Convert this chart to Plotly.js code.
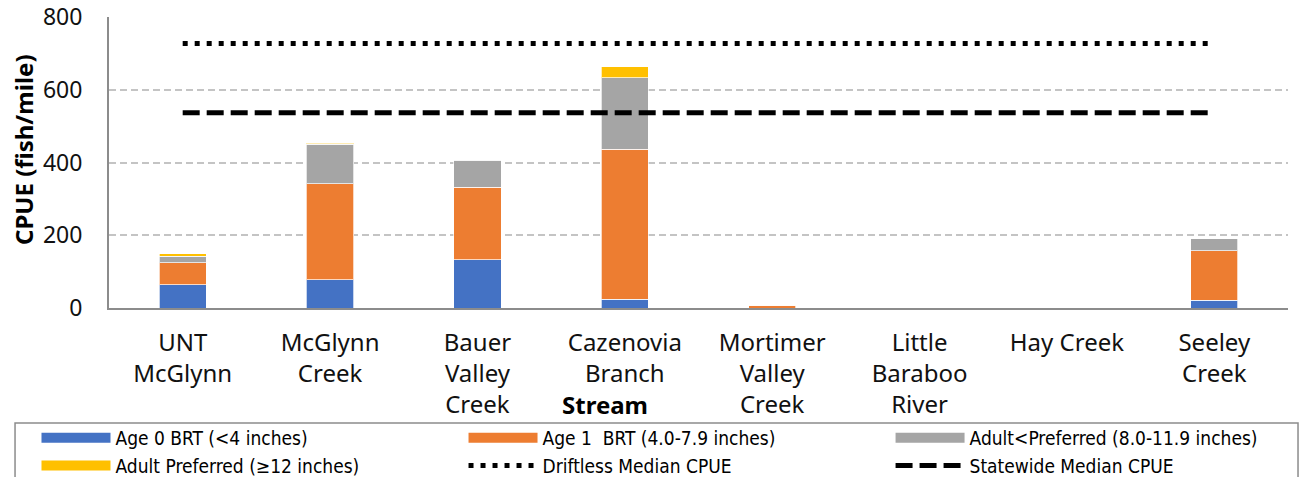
<!DOCTYPE html>
<html><head><meta charset="utf-8">
<script src="https://cdn.plot.ly/plotly-3.0.1.min.js"></script>
<style>html,body{margin:0;padding:0;background:#fff}#chart{width:1302px;height:477px}</style>
</head><body><div id="chart"></div>
<script>
const streams = ["UNT<br>McGlynn","McGlynn<br>Creek","Bauer<br>Valley<br>Creek","Cazenovia<br>Branch","Mortimer<br>Valley<br>Creek","Little<br>Baraboo<br>River","Hay Creek","Seeley<br>Creek"];
const age0 = [64, 78, 132, 24, 0, 0, 0, 21];
const age1 = [61, 263, 200, 412, 7, 0, 0, 137];
const adultLess = [17, 109, 74, 197, 0, 0, 0, 33];
const adultPref = [7, 3, 0, 30, 0, 0, 0, 0];
const driftlessMedian = 727;
const statewideMedian = 537;
const yTicks = [0, 200, 400, 600, 800];
const seriesNames = ["Age 0 BRT (<4 inches)", "Age 1  BRT (4.0-7.9 inches)", "Adult<Preferred (8.0-11.9 inches)", "Adult Preferred (≥12 inches)", "Driftless Median CPUE", "Statewide Median CPUE"];
const colors = ["#4472C4", "#ED7D31", "#A5A5A5", "#FFC000"];

const font = "Noto Sans, Open Sans, sans-serif";
const barLine = {color: "rgba(255,255,255,0.7)", width: 1};
function bar(i, y) {
  return {type: "bar", name: seriesNames[i], x: streams, y: y, marker: {color: colors[i], line: barLine},
          hoverinfo: "skip", showlegend: false, legendgroup: "g" + i};
}
// legend-only swatches (no data) so the legend shows wide colour bars like the original
function swatch(i, legend, rank) {
  return {type: "scatter", mode: "lines", name: seriesNames[i], x: [null], y: [null],
          line: {color: colors[i], width: 12}, legend: legend, legendgroup: "g" + i, legendrank: rank, hoverinfo: "skip"};
}
const firstLast = [streams[0], streams[streams.length - 1]];
const traces = [
  bar(0, age0), bar(1, age1), bar(2, adultLess), bar(3, adultPref),
  {type: "scatter", mode: "lines", name: seriesNames[4], x: firstLast, y: [driftlessMedian, driftlessMedian],
   line: {color: "#000", width: 5, dash: "5px,7px"}, hoverinfo: "skip", legend: "legend2", legendrank: 2},
  {type: "scatter", mode: "lines", name: seriesNames[5], x: firstLast, y: [statewideMedian, statewideMedian],
   line: {color: "#000", width: 5, dash: "17px,7px"}, hoverinfo: "skip", legend: "legend3", legendrank: 2},
  swatch(0, "legend", 1), swatch(3, "legend", 2),
  swatch(1, "legend2", 1), swatch(2, "legend3", 1)
];

const legendFont = {size: 19, family: "DejaVu Sans Condensed, Liberation Sans Narrow, " + font, color: "#000"};
function legendAt(x) {
  return {orientation: "v", xref: "paper", yref: "paper", x: x, xanchor: "left", y: -0.381, yanchor: "top",
          itemwidth: 69, bgcolor: "rgba(0,0,0,0)", borderwidth: 0, font: legendFont, tracegroupgap: 0,
          traceorder: "normal"};
}
const layout = {
  width: 1302, height: 477,
  margin: {l: 109, r: 14, t: 17, b: 169, autoexpand: false},
  paper_bgcolor: "#fff", plot_bgcolor: "#fff",
  barmode: "stack", bargap: 0.68,
  font: {family: font, color: "#000"},
  showlegend: true,
  xaxis: {
    type: "category", tickfont: {size: 24, family: font, color: "#111"}, automargin: false,
    showline: true, linecolor: "#8c8c8c", linewidth: 2, ticks: "",
    ticklabelstandoff: 12, showgrid: false, zeroline: false, fixedrange: true
  },
  yaxis: {
    range: [0, 800], tickvals: yTicks, ticktext: yTicks.map(String), automargin: false,
    tickfont: {size: 23, family: font, color: "#111"},
    showline: true, linecolor: "#8c8c8c", linewidth: 2, ticks: "", ticklabelstandoff: 20,
    showgrid: true, gridcolor: "#c4c4c4", gridwidth: 2, griddash: "7px,4px", zeroline: false,
    fixedrange: true
  },
  legend: legendAt(-0.0615),
  legend2: legendAt(0.3007),
  legend3: legendAt(0.6629),
  shapes: [{type: "rect", xref: "paper", yref: "paper", x0: -0.0797, x1: 1.0085, y0: -0.3952, y1: -0.62,
            line: {color: "#8c8c8c", width: 1.5}, fillcolor: "rgba(0,0,0,0)", layer: "above"}],
  annotations: [
    {text: "<b>Stream</b>", xref: "paper", yref: "paper", x: 0.4207, y: -0.3333, xanchor: "center", yanchor: "middle",
     showarrow: false, font: {size: 24, family: font, color: "#000"}},
    {text: "<b>CPUE (fish/mile)</b>", xref: "paper", yref: "paper", x: -0.0721, y: 0.5464, xanchor: "center", yanchor: "middle",
     textangle: -90, showarrow: false, font: {size: 24, family: font, color: "#000"}}
  ]
};
Plotly.newPlot("chart", traces, layout, {displayModeBar: false, staticPlot: true});
</script></body></html>
